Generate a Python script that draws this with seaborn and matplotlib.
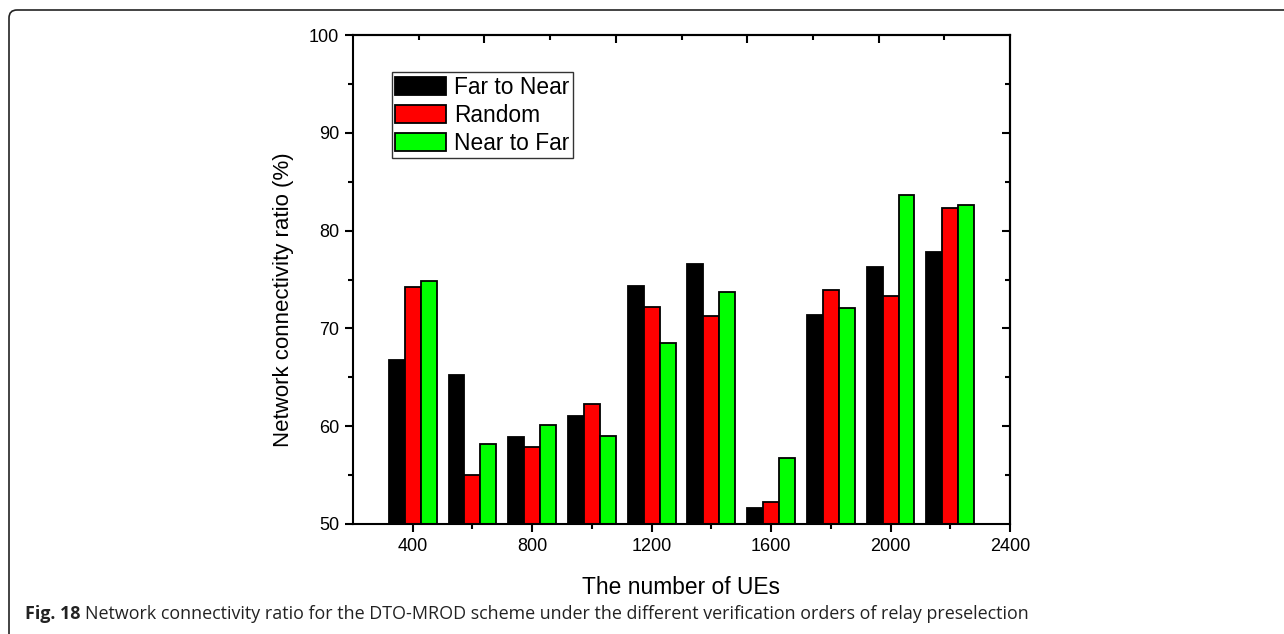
import numpy as np
import pandas as pd
import seaborn as sns
import matplotlib
matplotlib.use("Agg")
import matplotlib.pyplot as plt
from matplotlib.ticker import FixedLocator, NullFormatter
from matplotlib.patches import Patch, PathPatch
from matplotlib.path import Path

# Network connectivity ratio (%) per number of UEs, for each verification order
ues = [400, 600, 800, 1000, 1200, 1400, 1600, 1800, 2000, 2200]
far_to_near = [66.8, 65.2, 58.9, 61.0, 74.3, 76.6, 51.6, 71.4, 76.3, 77.8]
random_order = [74.2, 55.0, 57.9, 62.3, 72.2, 71.3, 52.2, 73.9, 73.3, 82.3]
near_to_far = [74.8, 58.2, 60.1, 59.0, 68.5, 73.7, 56.7, 72.1, 83.6, 82.6]
orders = ["Far to Near", "Random", "Near to Far"]
colors = ["#000000", "#FF0000", "#00FF00"]
x_ticks = [400, 800, 1200, 1600, 2000, 2400]
y_ticks = [50, 60, 70, 80, 90, 100]

df = pd.DataFrame({
    "ues": ues * 3,
    "ratio": far_to_near + random_order + near_to_far,
    "order": [orders[0]] * len(ues) + [orders[1]] * len(ues) + [orders[2]] * len(ues),
})

plt.rcParams["font.family"] = ["Liberation Sans", "DejaVu Sans"]
plt.rcParams["axes.linewidth"] = 1.5

W, H = 1284, 634
fig = plt.figure(figsize=(W / 100, H / 100), dpi=100)
ax = fig.add_axes([353 / W, 1 - 524 / H, (1010 - 353) / W, (524 - 35) / H])

sns.barplot(data=df, x="ues", y="ratio", hue="order", hue_order=orders,
            palette=colors, native_scale=True, width=0.8, saturation=1,
            edgecolor="black", linewidth=1.3, errorbar=None, ax=ax)

ax.set_xlim(200, 2400)
ax.set_ylim(50, 100)

# bottom / left: outward ticks with labels
ax.xaxis.set_major_locator(FixedLocator(x_ticks))
ax.xaxis.set_minor_locator(FixedLocator([600, 1000, 1400, 1800, 2200]))
ax.yaxis.set_major_locator(FixedLocator(y_ticks))
ax.yaxis.set_minor_locator(FixedLocator([55, 65, 75, 85, 95]))
ax.tick_params(which="major", direction="out", length=6, width=1.5, labelsize=13, pad=4)
ax.tick_params(which="minor", direction="out", length=3.5, width=1.5)

# top: independent 0-10 scale, inward ticks, no labels
top = ax.secondary_xaxis("top", functions=(lambda x: (x - 200) / 220.0,
                                           lambda t: t * 220.0 + 200))
top.xaxis.set_major_locator(FixedLocator([2, 4, 6, 8]))
top.xaxis.set_minor_locator(FixedLocator([1, 3, 5, 7, 9]))
top.xaxis.set_major_formatter(NullFormatter())
top.tick_params(which="major", direction="in", length=6, width=1.5)
top.tick_params(which="minor", direction="in", length=3.5, width=1.5)

# right: inward ticks, no labels
right = ax.secondary_yaxis("right")
right.yaxis.set_major_locator(FixedLocator([60, 70, 80, 90]))
right.yaxis.set_minor_locator(FixedLocator([55, 65, 75, 85, 95]))
right.yaxis.set_major_formatter(NullFormatter())
right.tick_params(which="major", direction="in", length=6, width=1.5)
right.tick_params(which="minor", direction="in", length=3.5, width=1.5)

ax.set_xlabel("The number of UEs", fontsize=16.4, labelpad=15)
ax.set_ylabel("Network connectivity ratio (%)", fontsize=16)
ax.yaxis.set_label_coords(-0.0898, 0.458)

handles = [Patch(facecolor=c, edgecolor="black", linewidth=1.3) for c in colors]
leg = ax.legend(handles, orders, loc="upper left", bbox_to_anchor=(0.059, 0.924),
                borderaxespad=0, fontsize=16.4, frameon=True, fancybox=False,
                edgecolor="black", handlelength=2.25, handleheight=0.83,
                handletextpad=0.35, labelspacing=0.22, borderpad=0.15)
leg.get_frame().set_linewidth(1.0)

# page frame: rounded corner top-left
r = 8
x0, y0 = 9, 10
verts = [(x0, H + 2), (x0, y0 + r), (x0, y0), (x0 + r, y0), (W + 2, y0)]
codes = [Path.MOVETO, Path.LINETO, Path.CURVE3, Path.CURVE3, Path.LINETO]
verts = [(vx / W, 1 - vy / H) for vx, vy in verts]
fig.add_artist(PathPatch(Path(verts, codes), transform=fig.transFigure,
                         facecolor="none", edgecolor="#222222", linewidth=1.2,
                         clip_on=False))

# caption
renderer = fig.canvas.get_renderer()
cap_y = 1 - 619 / H
t1 = fig.text(25 / W, cap_y, "Fig. 18", fontsize=12.9, fontweight="bold",
              family="Open Sans", color="#222222", va="baseline")
bb = t1.get_window_extent(renderer)
fig.text((bb.x1 + 5) / W, cap_y,
         "Network connectivity ratio for the DTO-MROD scheme under the different "
         "verification orders of relay preselection",
         fontsize=12.9, family="Open Sans", color="#222222", va="baseline")

fig.savefig("out.png", dpi=100)
